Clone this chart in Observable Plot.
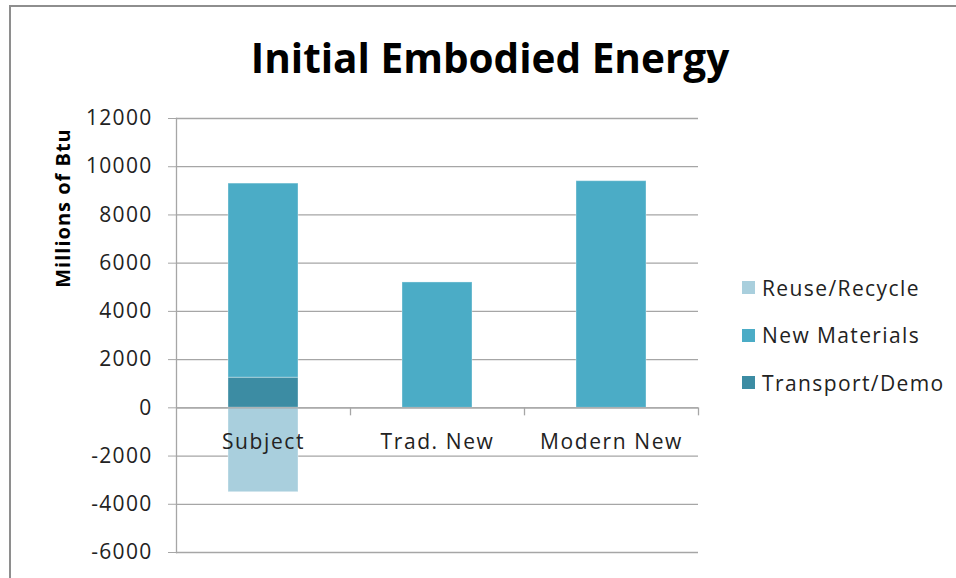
<!DOCTYPE html>
<html>
<head>
<meta charset="utf-8">
<script src="https://cdn.jsdelivr.net/npm/d3@7"></script>
<script src="https://cdn.jsdelivr.net/npm/@observablehq/plot@0.6"></script>
<style>
  html, body { margin: 0; padding: 0; background: #fff; }
  #wrap { position: relative; width: 956px; height: 578px; overflow: hidden; font-family: "Open Sans", sans-serif; }
  #border { position: absolute; left: 9px; top: 5px; width: 1000px; height: 700px; border-left: 2px solid #8e8e8e; border-top: 2px solid #8e8e8e; }
  #title { position: absolute; left: 0; width: 980px; top: 30px; text-align: center; font-weight: bold; font-size: 40.5px; color: #000; letter-spacing: 0px; }
  #ylabel { position: absolute; left: 62px; top: 208px; transform: translate(-50%, -50%) rotate(-90deg); font-weight: bold; font-size: 20px; letter-spacing: 1px; white-space: nowrap; }
  #legend { position: absolute; left: 742px; top: 264px; }
  .item { display: flex; align-items: center; height: 47.5px; font-size: 21px; letter-spacing: 1.4px; color: #222; }
  .sw { width: 13px; height: 13px; margin-right: 7px; }
  svg { position: absolute; left: 0; top: 0; }
  svg g[aria-label="y-axis tick label"] text { letter-spacing: 1.3px; }
  svg g[aria-label="text"] text { letter-spacing: 1.6px; }
</style>
</head>
<body>
<div id="wrap">
  <div id="border"></div>
  <div id="chart"></div>
  <div id="title">Initial Embodied Energy</div>
  <div id="ylabel">Millions of Btu</div>
  <div id="legend"></div>
</div>
<script>
const categories = ["Subject", "Trad. New", "Modern New"];
const series = ["Reuse/Recycle", "New Materials", "Transport/Demo"];
const colors = ["#a9cfdd", "#4bacc6", "#3c8ca3"];
const reuseRecycle = [-3500, 0, 0];
const newMaterials = [8050, 5200, 9400];
const transportDemo = [1250, 0, 0];
const yTicks = [-6000, -4000, -2000, 0, 2000, 4000, 6000, 8000, 10000, 12000];

const values = {"Reuse/Recycle": reuseRecycle, "New Materials": newMaterials, "Transport/Demo": transportDemo};
const stackOrder = ["Transport/Demo", "New Materials", "Reuse/Recycle"];
const table = [];
for (const s of stackOrder) {
  categories.forEach((c, i) => { if (values[s][i] !== 0) table.push({category: c, series: s, value: values[s][i]}); });
}

const W = 956, H = 578, ML = 176, MR = 258, MT = 118, MB = 26;
const step = (W - ML - MR) / categories.length;
const grey = "#a6a6a6";

const chart = Plot.plot({
  width: W, height: H,
  marginLeft: ML, marginRight: MR, marginTop: MT, marginBottom: MB,
  style: {fontFamily: "Open Sans, sans-serif", background: "transparent"},
  x: {domain: categories, paddingInner: 0.6, paddingOuter: 0.3, axis: null},
  y: {domain: [-6000, 12000], axis: null},
  color: {domain: series, range: colors},
  marks: [
    Plot.gridY(yTicks, {stroke: grey, strokeOpacity: 1, strokeWidth: 1.3}),
    Plot.axisY(yTicks, {tickSize: 8, stroke: grey, tickPadding: 16, fontSize: 21, fill: "#222", tickFormat: d => String(d), label: null}),
    Plot.barY(table, Plot.stackY({order: stackOrder}, {x: "category", y: "value", fill: "series", stroke: "#ffffff", strokeOpacity: 0.35, strokeWidth: 1})),
    Plot.ruleY([0], {stroke: grey, strokeWidth: 1.3}),
    Plot.ruleX(categories, {x: d => d, y1: 0, y2: 0, dx: step / 2, insetBottom: -8, stroke: grey, strokeWidth: 1.3}),
    Plot.frame({anchor: "left", stroke: grey, strokeWidth: 1.3}),
    Plot.text(categories, {x: d => d, y: 0, dy: 34, text: d => d, fontSize: 21, fill: "#222"})
  ]
});
document.getElementById("chart").appendChild(chart);

const legend = document.getElementById("legend");
series.forEach((s, i) => {
  const item = document.createElement("div");
  item.className = "item";
  const sw = document.createElement("div");
  sw.className = "sw";
  sw.style.background = colors[i];
  item.appendChild(sw);
  item.appendChild(document.createTextNode(s));
  legend.appendChild(item);
});
</script>
</body>
</html>
